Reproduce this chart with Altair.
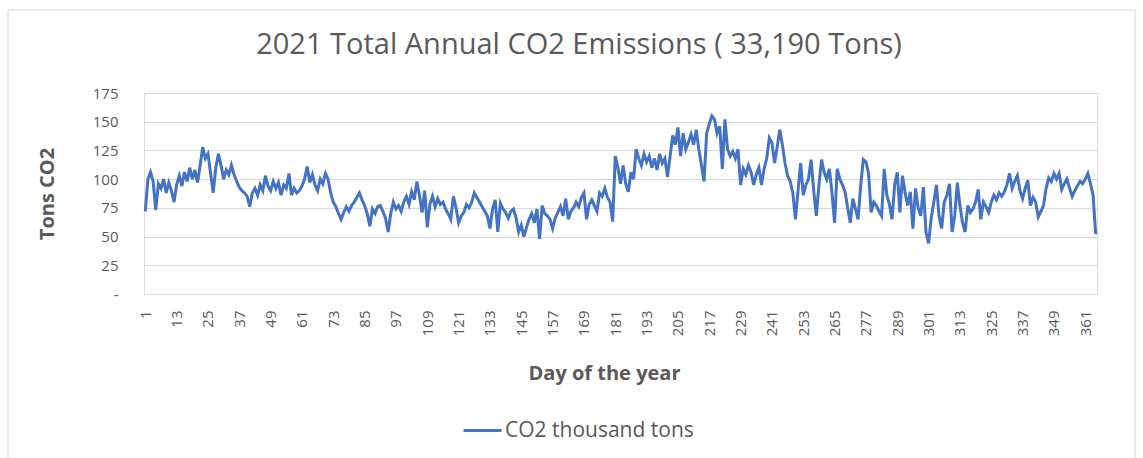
import altair as alt
import pandas as pd

# Daily CO2 values (thousand tons), by day ranges
d001_031 = [72, 100, 106, 98, 73, 96, 92, 100, 88, 97, 90, 80, 95, 103, 94, 106, 98, 110, 100, 108,
            97, 112, 128, 118, 122, 105, 88, 110, 122, 112, 100]
d032_072 = [108, 104, 112, 104, 98, 93, 90, 88, 85, 76, 88, 92, 86, 95, 90, 103, 94, 90, 98, 92,
            97, 86, 95, 92, 105, 86, 92, 88, 90, 94, 100, 111, 97, 104, 95, 90, 100, 96, 105, 100, 88]
d073_103 = [80, 76, 70, 65, 71, 76, 72, 77, 80, 84, 88, 82, 77, 70, 59, 74, 70, 76, 77, 72,
            66, 54, 70, 80, 74, 77, 72, 80, 85, 78, 89]
d104_144 = [82, 98, 86, 71, 90, 58, 78, 85, 76, 83, 78, 80, 74, 70, 65, 85, 75, 62, 68, 71,
            78, 75, 80, 88, 84, 80, 76, 72, 68, 57, 74, 82, 54, 79, 74, 71, 66, 72, 74, 66, 54]
d145_181 = [60, 50, 58, 65, 70, 62, 74, 48, 77, 70, 68, 65, 57, 66, 71, 76, 68, 83, 65, 72,
            75, 80, 76, 84, 88, 65, 78, 82, 77, 72, 88, 85, 92, 84, 80, 63, 120]
d182_205 = [110, 96, 112, 96, 89, 106, 100, 126, 118, 112, 122, 115, 120, 110, 118, 108, 122, 114, 118, 102,
            120, 138, 130, 145]
d206_246 = [120, 140, 126, 132, 139, 130, 143, 126, 112, 98, 140, 148, 155, 152, 140, 146, 109, 152, 126, 120,
            124, 118, 126, 95, 109, 104, 112, 106, 95, 104, 110, 95, 109, 118, 136, 132, 114, 128, 143, 130, 114]
d247_287 = [103, 98, 88, 65, 90, 114, 86, 95, 100, 117, 90, 68, 95, 117, 106, 100, 109, 88, 62, 109,
            100, 95, 89, 75, 62, 83, 74, 65, 95, 117, 115, 105, 71, 80, 77, 72, 68, 109, 86, 78, 65]
d288_328 = [95, 106, 71, 103, 88, 77, 89, 57, 92, 75, 68, 93, 54, 44, 66, 80, 95, 68, 57, 80,
            86, 96, 54, 68, 97, 77, 62, 54, 77, 71, 74, 80, 91, 65, 80, 76, 71, 80, 86, 82, 88]
d329_365 = [85, 89, 95, 105, 92, 98, 103, 90, 83, 92, 99, 77, 84, 80, 67, 72, 77, 92, 101, 98,
            105, 100, 105, 91, 96, 100, 92, 85, 90, 94, 98, 96, 100, 105, 96, 86, 52]

co2 = (d001_031 + d032_072 + d073_103 + d104_144 + d145_181 + d182_205
       + d206_246 + d247_287 + d288_328 + d329_365)
days = list(range(1, len(co2) + 1))
series_name = "CO2 thousand tons"
title_text = "2021 Total Annual CO2 Emissions ( 33,190 Tons)"
x_ticks = list(range(1, 362, 12))
y_ticks = [0, 25, 50, 75, 100, 125, 150, 175]

df = pd.DataFrame({"day": days, "co2": co2, "series": [series_name] * len(days)})

FONT = "Open Sans"
GREY = "#595959"
BLUE = "#4472C4"
LEFT, TOP = 144, 93
W, H = 953, 201

frame = alt.Chart(pd.DataFrame({"f": [0]})).mark_rect(
    fillOpacity=0, stroke="#d9d9d9", strokeWidth=1
).encode(
    x=alt.value(8 - LEFT), x2=alt.value(1135 - LEFT), y=alt.value(10 - TOP), y2=alt.value(380)
)

title = alt.Chart(pd.DataFrame({"t": [title_text]})).mark_text(
    font=FONT, fontSize=29, color=GREY, align="center", baseline="middle"
).encode(text="t:N", x=alt.value(579 - LEFT), y=alt.value(45 - TOP))

line = alt.Chart(df).mark_line(strokeWidth=3, color=BLUE).encode(
    x=alt.X(
        "day:Q",
        scale=alt.Scale(domain=[0.5, 365.5], nice=False, zero=False),
        axis=alt.Axis(
            values=x_ticks, labelAngle=270, labelPadding=16, ticks=False, domain=False,
            grid=False, labelFont=FONT, labelFontSize=15, labelColor=GREY,
            labelOverlap=False, labelFlush=False,
            title="Day of the year", titleFont=FONT, titleFontSize=20, titleFontWeight="bold",
            titleColor=GREY, titleX=604 - LEFT, titleY=79, titleAlign="center", titleBaseline="middle",
        ),
    ),
    y=alt.Y(
        "co2:Q",
        scale=alt.Scale(domain=[0, 175], nice=False),
        axis=alt.Axis(
            values=y_ticks, grid=True, gridColor="#d9d9d9", gridWidth=1, domain=False, ticks=False,
            labelExpr="datum.value == 0 ? '-' : datum.label",
            labelFont=FONT, labelFontSize=15, labelColor=GREY, labelPadding=26,
            title="Tons CO2", titleFont=FONT, titleFontSize=20, titleFontWeight="bold",
            titleColor=GREY, titleX=47 - LEFT, titleY=H / 2, titleAngle=270, titleAlign="center",
            titleBaseline="middle",
        ),
    ),
    color=alt.Color(
        "series:N",
        scale=alt.Scale(range=[BLUE]),
        legend=alt.Legend(
            title=None, orient="none", legendX=462 - LEFT, legendY=317, symbolType="stroke",
            symbolSize=1444, symbolStrokeWidth=3, labelFont=FONT, labelFontSize=21,
            labelColor=GREY, labelOffset=2, labelLimit=0,
        ),
    ),
)

chart = alt.layer(frame, title, line).properties(
    width=W,
    height=H,
    padding={"left": LEFT, "top": TOP, "right": 1143 - LEFT - W, "bottom": 458 - TOP - H},
    autosize=alt.AutoSizeParams(type="none"),
).configure_view(stroke=None).configure(background="white")

chart.save("out.html", embed_options={"renderer": "svg", "actions": False})
